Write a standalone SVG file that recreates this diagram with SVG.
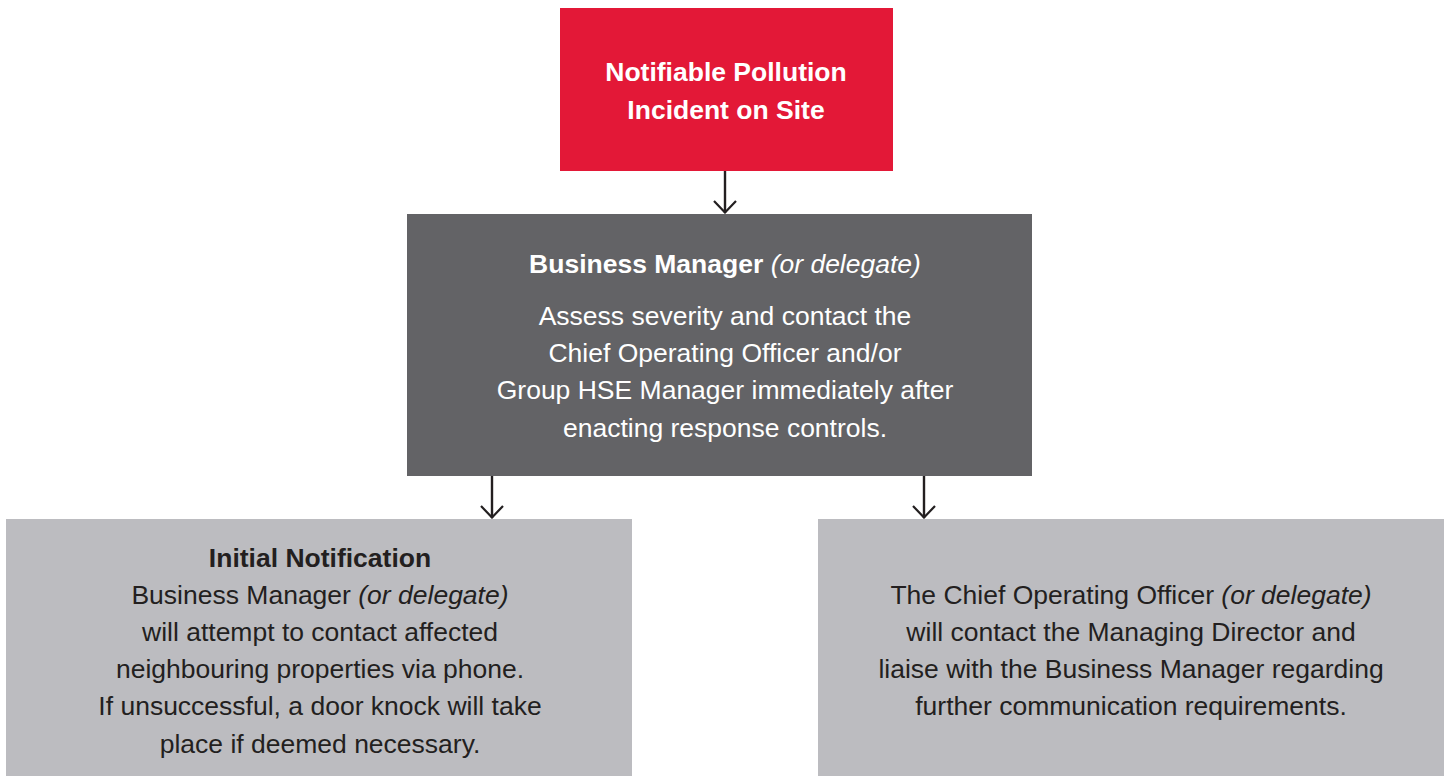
<svg xmlns="http://www.w3.org/2000/svg" width="1449" height="776" viewBox="0 0 1449 776">
<defs>
<marker id="arr" viewBox="0 0 14 24" refX="13" refY="12" markerWidth="14" markerHeight="24" markerUnits="userSpaceOnUse" orient="auto">
<path d="M1,1 L12.5,12 L1,23" fill="none" stroke="#231f20" stroke-width="2.2"/>
</marker>
<style>
text{font-family:"Liberation Sans",Arial,Helvetica,sans-serif;font-size:26.5px;text-anchor:middle}
.w{fill:#ffffff}
.d{fill:#231f20}
.b{font-weight:bold}
.i{font-style:italic}
.conn{stroke:#231f20;stroke-width:2.4;fill:none}
</style>
</defs>
<rect width="1449" height="776" fill="#ffffff"/>
<g id="connectors">
<line class="conn" x1="725" y1="171" x2="725" y2="213" marker-end="url(#arr)"/>
<line class="conn" x1="492" y1="476" x2="492" y2="518" marker-end="url(#arr)"/>
<line class="conn" x1="924" y1="476" x2="924" y2="518" marker-end="url(#arr)"/>
</g>
<g id="node-incident">
<rect x="560" y="8" width="333" height="163" fill="#e31837"/>
<text class="w b" x="726" y="81">Notifiable Pollution</text>
<text class="w b" x="726" y="119">Incident on Site</text>
</g>
<g id="node-business-manager">
<rect x="407" y="214" width="625" height="262" fill="#636366"/>
<text class="w" x="725" y="273"><tspan class="b">Business Manager</tspan> <tspan class="i">(or delegate)</tspan></text>
<text class="w" x="725" y="325">Assess severity and contact the</text>
<text class="w" x="725" y="362">Chief Operating Officer and/or</text>
<text class="w" x="725" y="399">Group HSE Manager immediately after</text>
<text class="w" x="725" y="437">enacting response controls.</text>
</g>
<g id="node-initial-notification">
<rect x="6" y="519" width="626" height="257" fill="#bcbcc0"/>
<text class="d b" x="320" y="567">Initial Notification</text>
<text class="d" x="320" y="604">Business Manager <tspan class="i">(or delegate)</tspan></text>
<text class="d" x="320" y="641">will attempt to contact affected</text>
<text class="d" x="320" y="678">neighbouring properties via phone.</text>
<text class="d" x="320" y="715">If unsuccessful, a door knock will take</text>
<text class="d" x="320" y="753">place if deemed necessary.</text>
</g>
<g id="node-coo">
<rect x="818" y="519" width="626" height="257" fill="#bcbcc0"/>
<text class="d" x="1131" y="604">The Chief Operating Officer <tspan class="i">(or delegate)</tspan></text>
<text class="d" x="1131" y="641">will contact the Managing Director and</text>
<text class="d" x="1131" y="678">liaise with the Business Manager regarding</text>
<text class="d" x="1131" y="715">further communication requirements.</text>
</g>
</svg>
